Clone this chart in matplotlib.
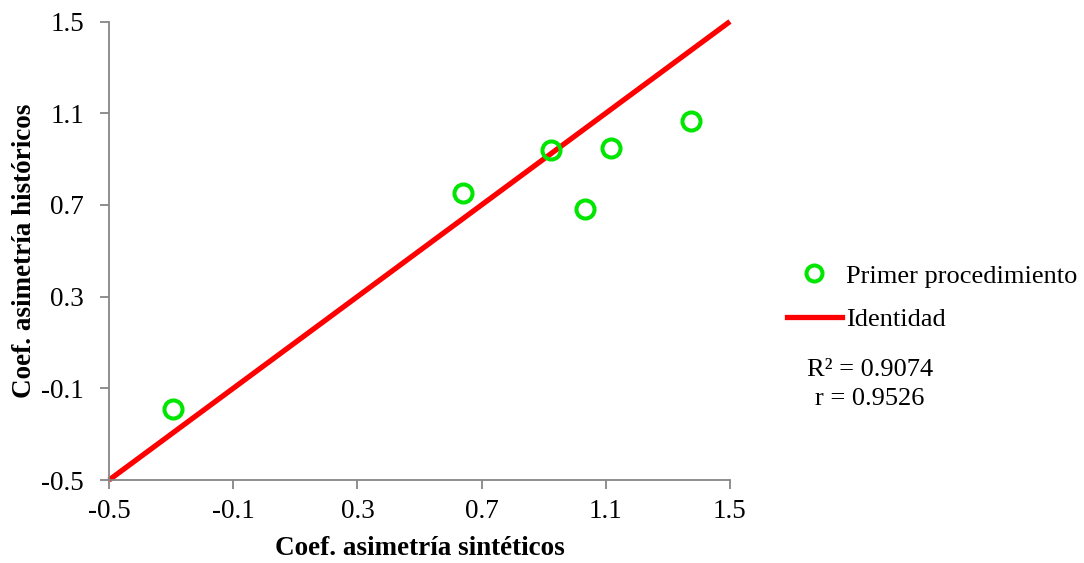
import matplotlib
matplotlib.use("Agg")
import matplotlib.pyplot as plt
from matplotlib.lines import Line2D

# Skewness coefficients: synthetic (x) vs historical (y)
sinteticos = [-0.294, 0.639, 0.923, 1.033, 1.118, 1.373]
historicos = [-0.192, 0.751, 0.939, 0.681, 0.947, 1.067]
identidad = [-0.5, 1.5]
ticks = [-0.5, -0.1, 0.3, 0.7, 1.1, 1.5]
tick_labels = ["-0.5", "-0.1", "0.3", "0.7", "1.1", "1.5"]
r2_text = "R² = 0.9074"
r_text = "r = 0.9526"

plt.rcParams["font.family"] = ["Liberation Serif", "DejaVu Serif"]

fig = plt.figure(figsize=(10.84, 5.63), dpi=100)
ax = fig.add_axes([0.1006, 0.1474, 0.5728, 0.8144])

green = "#00e600"
red = "#ff0000"

ax.plot(identidad, identidad, color=red, lw=3.8, solid_capstyle="butt",
        clip_on=False, zorder=2)
ax.plot(sinteticos, historicos, linestyle="none", marker="o", ms=13,
        mfc="none", mec=green, mew=2.9, clip_on=False, zorder=3)

ax.set_xlim(-0.5, 1.5)
ax.set_ylim(-0.5, 1.5)
ax.set_xticks(ticks)
ax.set_xticklabels(tick_labels)
ax.set_yticks(ticks)
ax.set_yticklabels(tick_labels)

for s in ["top", "right"]:
    ax.spines[s].set_visible(False)
for s in ["left", "bottom"]:
    ax.spines[s].set_color("#868686")
    ax.spines[s].set_linewidth(1.3)
ax.tick_params(axis="both", direction="out", length=6.5, width=1.3,
               color="#868686", labelsize=19.5, labelcolor="black")
ax.tick_params(axis="x", pad=7)
ax.tick_params(axis="y", pad=11.5)

ax.set_xlabel("Coef. asimetría sintéticos", fontsize=19.5, fontweight="bold",
              labelpad=9)
ax.set_ylabel("Coef. asimetría históricos", fontsize=19.5, fontweight="bold",
              labelpad=3)

handles = [
    Line2D([], [], linestyle="none", marker="o", ms=11.5, mfc="none",
           mec=green, mew=2.9),
    Line2D([], [], color=red, lw=3.8),
]
fig.legend(handles, ["Primer procedimiento", "Identidad"],
           loc="upper left", bbox_to_anchor=(0.726, 0.531), frameon=False,
           fontsize=19, handlelength=2.08, handletextpad=0.15,
           labelspacing=0.77, borderaxespad=0, borderpad=0)

fig.text(0.8026, 0.3425, r2_text, fontsize=19, ha="center", va="center")
fig.text(0.8026, 0.291, r_text, fontsize=19, ha="center", va="center")

fig.savefig("out.png", dpi=100)
